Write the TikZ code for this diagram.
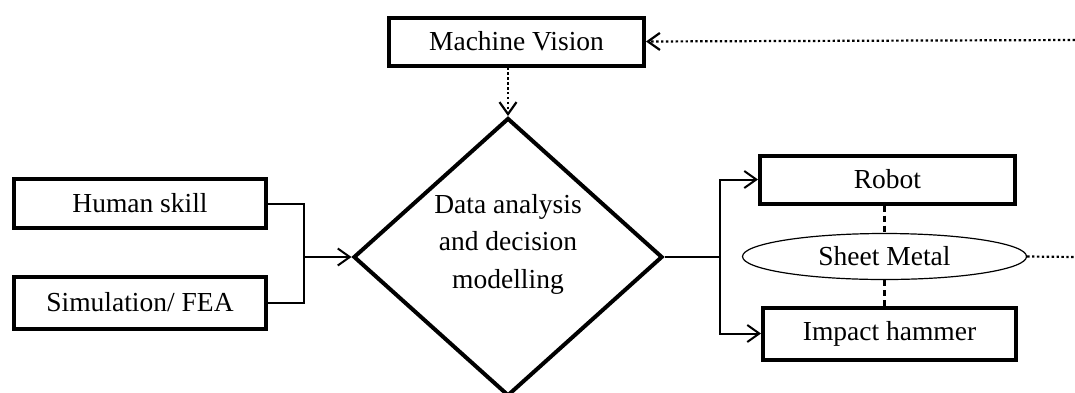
\documentclass[tikz,border=0pt]{standalone}
\usepackage{fontspec}
\setmainfont{Liberation Serif}
\usetikzlibrary{arrows.meta,shapes.geometric}
\begin{document}
\begin{tikzpicture}[x=1pt,y=-1pt,
  box/.style={draw,line width=4pt,inner sep=0pt,minimum width=255pt,minimum height=48pt,font=\fontsize{27.5}{37}\selectfont},
  conn/.style={line width=2pt},
  arr/.style={-{Straight Barb[length=12pt,width=17pt]}},
  dotline/.style={line width=2.2pt,dash pattern=on 2.4pt off 2.5pt},
  dashline/.style={line width=2.2pt,dash pattern=on 6pt off 4pt}]
\clip (0,0) rectangle (1075,392);
\node[box] (mv) at (516.5,41.5) {Machine Vision};
\node[box,minimum width=252pt,minimum height=49pt] (hs) at (140,203.5) {Human skill};
\node[box,minimum width=252pt,minimum height=52pt] (sim) at (140,302.5) {Simulation/ FEA};
\node[box] (rob) at (887.5,179.5) {Robot};
\node[box,minimum width=253pt,minimum height=52pt] (ham) at (889.5,333.5) {Impact hammer};
\node[draw,line width=1.2pt,ellipse,inner sep=0pt,minimum width=284pt,minimum height=46pt,font=\fontsize{27.5}{37}\selectfont] (sm) at (884.5,256.5) {Sheet Metal};
\node[draw,line width=4pt,diamond,inner sep=0pt,minimum width=309pt,minimum height=278pt] (dia) at (508,257) {};
\node[align=center,font=\fontsize{27.5}{37.5}\selectfont,inner sep=0pt] (dtext) at (508,244) {Data analysis\\and decision\\modelling};
\coordinate (j1) at (304,257);
\coordinate (j2) at (720,257);
\coordinate (r1) at (1075,40);
\coordinate (r2) at (1075,257);
\draw[conn] (hs.east) -| (j1) |- (sim.east);
\draw[conn,arr] (j1) -- (dia.west);
\draw[conn] (dia.east) -- (j2);
\draw[conn,arr] (j2) |- (rob.west);
\draw[conn,arr] (j2) |- (ham.west);
\draw[dotline,arr] (r1) -- (mv.east);
\draw[dotline,arr] (dia.north |- mv.south) -- (dia.north);
\draw[dotline] (sm.east) -- (r2);
\draw[dashline] (rob.south -| sm.north) -- (sm.north);
\draw[dashline] (sm.south) -- (ham.north -| sm.south);
\end{tikzpicture}
\end{document}
